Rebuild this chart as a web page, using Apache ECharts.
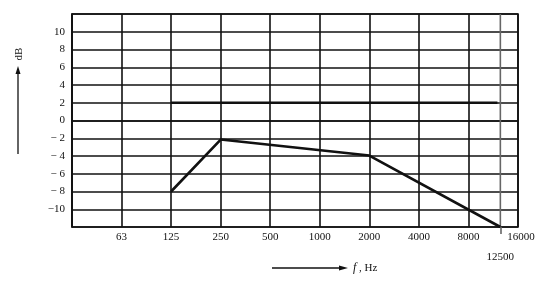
<!DOCTYPE html>
<html>
<head>
<meta charset="utf-8">
<script src="https://cdn.jsdelivr.net/npm/echarts@6/dist/echarts.min.js"></script>
<style>
  html, body { margin: 0; padding: 0; background: #fff; }
  #chart { width: 549px; height: 285px; }
</style>
</head>
<body>
<div id="chart"></div>
<script>
// octave band tick labels, index 0 = 31.25 Hz (unlabelled)
const bandLabels = ["", "63", "125", "250", "500", "1000", "2000", "4000", "8000", "16000"];
const baseFreq = 31.25;
const extraFreq = 12500;

// upper limit line (f, dB)
const upperFreq = [125, 12000];
const upperDb = [2, 2];

// lower limit curve (f, dB)
const lowerFreq = [125, 250, 2000, 12500];
const lowerDb = [-8, -2.15, -3.95, -12];

const yTicks = { min: -12, max: 12, step: 2 };

const toOct = (f) => Math.log2(f / baseFreq);
const pairs = (fs, ds) => fs.map((f, i) => [toOct(f), ds[i]]);

const ink = "#111";
const serif = "Liberation Serif";

const chart = echarts.init(document.getElementById("chart"));
const extraX = toOct(extraFreq);

chart.setOption({
  animation: false,
  grid: {
    left: 72, right: 31, top: 14, bottom: 58,
    show: true, borderColor: ink, borderWidth: 1.6,
  },
  xAxis: [
    {
      type: "value", min: 0, max: bandLabels.length - 1, interval: 1,
      axisLine: { lineStyle: { color: ink, width: 1.6 } },
      axisTick: { show: false },
      splitLine: { lineStyle: { color: ink, width: 1.6 } },
      axisLabel: {
        color: ink, fontFamily: serif, fontSize: 11, margin: 5,
        formatter: (v) => {
          const s = bandLabels[Math.round(v)] || "";
          return v === bandLabels.length - 1 ? "{r|" + s + "}" : s;
        },
        rich: { r: { fontFamily: serif, fontSize: 11, color: ink, padding: [0, 0, 0, 6] } },
      },
    },
    {
      type: "value", min: 0, max: bandLabels.length - 1, position: "bottom",
      axisLine: { show: false },
      splitLine: { show: false },
      axisTick: { show: true, customValues: [extraX], length: 7, lineStyle: { color: "#666", width: 1.6 } },
      axisLabel: {
        customValues: [extraX], color: ink, fontFamily: serif, fontSize: 11, margin: 25,
        formatter: () => String(extraFreq),
      },
    },
  ],
  yAxis: {
    type: "value", min: yTicks.min, max: yTicks.max, interval: yTicks.step,
    axisLine: { lineStyle: { color: ink, width: 1.6 } },
    axisTick: { show: false },
    splitLine: { lineStyle: { color: ink, width: 1.6 } },
    axisLabel: {
      color: ink, fontFamily: serif, fontSize: 11, margin: 7,
      formatter: (v) => {
        if (v === yTicks.min || v === yTicks.max) return "";
        if (v < 0) return (v > -10 ? "\u2212 " : "\u2212") + (-v);
        return String(v);
      },
    },
  },
  series: [
    {
      type: "line", silent: true, symbol: "none",
      data: [[extraX, yTicks.min], [extraX, yTicks.max]],
      lineStyle: { color: "#666", width: 1.6 },
    },
    {
      type: "line", symbol: "none",
      data: pairs(upperFreq, upperDb),
      lineStyle: { color: ink, width: 2.6 },
    },
    {
      type: "line", symbol: "none",
      data: pairs(lowerFreq, lowerDb),
      lineStyle: { color: ink, width: 2.6 },
    },
  ],
  graphic: [
    // y axis name with arrow
    { type: "line", shape: { x1: 18, y1: 154, x2: 18, y2: 72 }, style: { stroke: ink, lineWidth: 1.3 } },
    { type: "polygon", shape: { points: [[18, 66], [15.5, 74], [20.5, 74]] }, style: { fill: ink } },
    {
      type: "text", x: 19, y: 54, rotation: Math.PI / 2,
      style: { text: "dB", font: "11px Liberation Serif", fill: ink, align: "center", verticalAlign: "middle" },
    },
    // x axis name with arrow
    { type: "line", shape: { x1: 272, y1: 268, x2: 340, y2: 268 }, style: { stroke: ink, lineWidth: 1.3 } },
    { type: "polygon", shape: { points: [[348, 268], [339, 265.5], [339, 270.5]] }, style: { fill: ink } },
    {
      type: "text", x: 353, y: 268,
      style: {
        text: "{i|f} , Hz", fill: ink, verticalAlign: "middle",
        rich: {
          i: { fontFamily: serif, fontStyle: "italic", fontSize: 12 },
        },
        font: "11px Liberation Serif",
      },
    },
  ],
});
</script>
</body>
</html>
